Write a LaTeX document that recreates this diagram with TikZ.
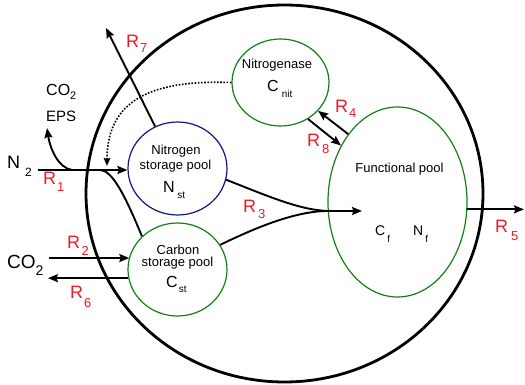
\documentclass[tikz,border=0pt]{standalone}
\usepackage{fontspec}
\setmainfont{Liberation Sans}
\usetikzlibrary{shapes.geometric,arrows.meta}
\definecolor{rred}{RGB}{236,28,36}
\definecolor{pgreen}{RGB}{20,128,20}
\definecolor{pblue}{RGB}{20,20,130}
\newcommand\fsz[1]{\fontsize{#1}{#1}\selectfont}
\newcommand\lsb[3]{\raisebox{-#2}{\fsz{#1}#3}}
\begin{document}
\begin{tikzpicture}[x=1pt,y=-1pt,
  pool/.style={ellipse,draw,line width=1.2pt,inner sep=0pt},
  txt/.style={inner sep=0pt,anchor=base west},
  ctxt/.style={inner sep=0pt,anchor=base},
  flow/.style={line width=1.9pt,-{Stealth[length=10pt,width=8pt,inset=1.5pt]}},
  flowline/.style={line width=1.9pt},
  dotflow/.style={line width=1.6pt,dash pattern=on 1.6pt off 1.6pt,-{Stealth[length=8pt,width=6.5pt,inset=1pt]}},
  rlab/.style={txt,text=rred,font=\fsz{18}},
]
\useasboundingbox (0,0) rectangle (525,385);

% cell and pools
\node[ellipse,draw,line width=2.8pt,minimum width=397pt,minimum height=377pt,inner sep=0pt] (cell) at (284.5,193.5) {};
\node[pool,draw=pblue,minimum width=99pt,minimum height=93pt] (nsp) at (177.5,168.5) {};
\node[pool,draw=pgreen,minimum width=99pt,minimum height=93pt] (csp) at (177.5,269.5) {};
\node[pool,draw=pgreen,minimum width=97pt,minimum height=87pt] (nit) at (280.5,82.5) {};
\node[pool,draw=pgreen,minimum width=139pt,minimum height=190pt] (fun) at (397.5,202) {};

% pool texts
\node[ctxt,font=\fsz{13}] (nsp1) at (176,155) {Nitrogen};
\node[ctxt,font=\fsz{13}] (nsp2) at (175.5,170) {storage pool};
\node[txt,font=\fsz{16}] (nsp3) at (163,193) {N\kern2.5pt\lsb{10}{6pt}{st}};
\node[ctxt,font=\fsz{13}] (csp1) at (178,254) {Carbon};
\node[ctxt,font=\fsz{13}] (csp2) at (177.5,266) {storage pool};
\node[txt,font=\fsz{16}] (csp3) at (166,287) {C\kern1pt\lsb{10}{5pt}{st}};
\node[ctxt,font=\fsz{13}] (nit1) at (277,69) {Nitrogenase};
\node[txt,font=\fsz{16}] (nit2) at (267,92) {C\kern3pt\lsb{10}{6pt}{nit}};
\node[ctxt,font=\fsz{13}] (fun1) at (399.5,173) {Functional pool};
\node[txt,font=\fsz{14}] (fun2) at (375,235) {C\kern2pt\lsb{10}{7pt}{f}};
\node[txt,font=\fsz{14}] (fun3) at (413,235) {N\kern2pt\lsb{10}{7pt}{f}};

% outside texts
\node[txt,font=\fsz{18}] (n2) at (7,168) {N\kern5pt\lsb{12}{8pt}{2}};
\node[txt,font=\fsz{16}] (co2a) at (46,96) {CO\lsb{11}{4pt}{2}};
\node[txt,font=\fsz{15}] (eps) at (46,122) {EPS};
\node[txt,font=\fsz{19}] (co2b) at (7,268) {CO\lsb{14}{7pt}{2}};

% rate labels
\node[rlab] (r1) at (43,185) {R\kern1pt\lsb{13}{7pt}{1}};
\node[rlab] (r2) at (67,248) {R\kern1.5pt\lsb{13}{7pt}{2}};
\node[rlab] (r3) at (243,212) {R\kern2pt\lsb{13}{6pt}{3}};
\node[rlab] (r4) at (335,113) {R\kern1pt\lsb{13}{5pt}{4}};
\node[rlab] (r5) at (495,232) {R\kern3pt\lsb{13}{8pt}{5}};
\node[rlab] (r6) at (70,298) {R\kern1pt\lsb{13}{9pt}{6}};
\node[rlab] (r7) at (126,48) {R\kern1pt\lsb{13}{5pt}{7}};
\node[rlab] (r8) at (307,147) {R\kern2pt\lsb{13}{7pt}{8}};

% coordinates for free ends
\coordinate (n2s) at (38,170);
\coordinate (b1) at (72,170);
\coordinate (epsend) at (47,128);
\coordinate (b2) at (100,170);
\coordinate (dotend) at (107,166);
\coordinate (r7end) at (106,28);
\coordinate (conv) at (328,211);
\coordinate (r3end) at (362,211);
\coordinate (r5end) at (524,209);
\coordinate (r2s) at (49,258);
\coordinate (r6e) at (48,277);

% connectors
\draw[flow] (n2s) -- (n2s -| nsp.west);
\draw[flow] (b1) .. controls (58,168) and (50,148) .. (epsend);
\draw[flowline] (b2) .. controls (112,170) and (125,195) .. (csp.137);
\draw[dotflow] (nit.west) .. controls (160,80) and (107,95) .. (dotend);
\draw[flow] (nsp.118) -- (r7end);
\draw[flowline] (nsp.-13) .. controls (270,197) and (300,210) .. (conv);
\draw[flowline] (csp.30) .. controls (255,228) and (295,211) .. (conv);
\draw[flow] (conv) -- (r3end);
\draw[flow] (fun.126) -- (nit.-37);
\draw[flow] (nit.-53) -- (fun.135);
\draw[flow] (fun.-6) -- (fun.-6 -| r5end);
\draw[flow] (r2s) -- (r2s -| csp.165);
\draw[flow] (csp.190) -- (csp.190 -| r6e);
\end{tikzpicture}
\end{document}
